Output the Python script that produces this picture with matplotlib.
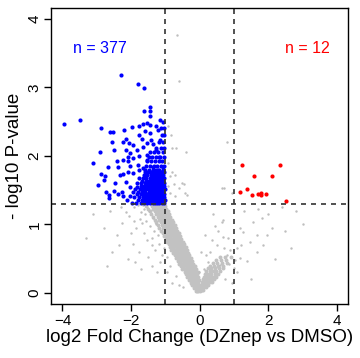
import matplotlib
matplotlib.use("Agg")
import matplotlib.pyplot as plt

plt.rcParams['font.family'] = ['Liberation Sans', 'DejaVu Sans']

# significant down (blue)
blue_pts = [
    (-2.30, 3.18), (-1.80, 3.05), (-1.61, 2.99), (-1.46, 2.72), (-1.61, 2.65),
    (-1.44, 2.65), (-1.46, 2.58), (-3.95, 2.46), (-3.49, 2.53), (-2.87, 2.41),
    (-2.60, 2.35), (-2.53, 2.35), (-2.20, 2.38), (-1.96, 2.42), (-1.78, 2.43),
    (-1.66, 2.46), (-1.53, 2.48), (-1.44, 2.45), (-1.28, 2.43), (-1.16, 2.53),
    (-1.06, 2.50), (-1.58, 2.37), (-1.44, 2.33), (-1.76, 2.30), (-1.67, 2.25),
    (-1.41, 2.23), (-1.21, 2.38), (-2.15, 2.25), (-2.24, 2.21), (-2.56, 2.21),
    (-2.06, 2.19), (-1.95, 2.16), (-1.52, 2.19), (-1.35, 2.18), (-1.15, 2.23),
    (-2.49, 2.09), (-2.14, 2.09), (-2.03, 2.04), (-1.83, 2.09), (-1.66, 2.13),
    (-2.91, 2.05), (-2.10, 1.99), (-1.95, 1.97), (-1.78, 2.00), (-1.54, 2.02),
    (-1.27, 2.09), (-1.17, 1.98), (-3.11, 1.90), (-2.41, 1.92), (-2.24, 1.94),
    (-2.09, 1.93), (-2.68, 1.84), (-2.38, 1.84), (-2.03, 1.85), (-1.81, 1.87),
    (-1.54, 1.94), (-1.35, 1.84), (-2.87, 1.74), (-2.75, 1.71), (-2.33, 1.72),
    (-2.24, 1.73), (-2.09, 1.77), (-1.93, 1.75), (-1.78, 1.80), (-1.64, 1.82),
    (-1.44, 1.77), (-1.20, 1.80), (-1.06, 1.84), (-2.78, 1.65), (-2.46, 1.60),
    (-2.14, 1.62), (-2.03, 1.55), (-2.95, 1.57), (-2.73, 1.47), (-2.63, 1.43),
    (-2.51, 1.49), (-2.38, 1.44), (-2.27, 1.48), (-2.22, 1.41), (-2.65, 1.39),
    (-2.03, 1.41), (-1.93, 1.48), (-1.83, 1.55),
]

# dense part of the blue group, by row: (-log10 p, log2 FC values)
blue_rows = [
    (1.32, [-1.04, -1.10, -1.17, -1.23, -1.30, -1.37, -1.45, -1.53, -1.62, -1.72, -1.85, -1.96]),
    (1.36, [-1.02, -1.08, -1.14, -1.21, -1.28, -1.34, -1.42, -1.50, -1.58, -1.68, -1.79, -2.12]),
    (1.40, [-1.05, -1.11, -1.18, -1.25, -1.32, -1.40, -1.47, -1.56, -1.65, -1.76, -1.90]),
    (1.44, [-1.03, -1.09, -1.15, -1.22, -1.30, -1.37, -1.44, -1.52, -1.61, -1.71, -1.83]),
    (1.48, [-1.06, -1.12, -1.19, -1.26, -1.33, -1.41, -1.49, -1.58, -1.67, -1.80]),
    (1.52, [-1.02, -1.09, -1.16, -1.23, -1.31, -1.39, -1.47, -1.55, -1.64, -1.75, -1.88]),
    (1.56, [-1.05, -1.12, -1.20, -1.28, -1.36, -1.44, -1.53, -1.62, -1.72]),
    (1.60, [-1.03, -1.10, -1.17, -1.25, -1.33, -1.42, -1.50, -1.60, -1.70, -1.84]),
    (1.64, [-1.06, -1.14, -1.22, -1.30, -1.39, -1.48, -1.57, -1.67]),
    (1.68, [-1.04, -1.11, -1.19, -1.27, -1.36, -1.46, -1.55, -1.66, -1.78]),
    (1.72, [-1.07, -1.15, -1.24, -1.33, -1.42, -1.52, -1.62]),
    (1.76, [-1.03, -1.12, -1.21, -1.30, -1.40, -1.50, -1.60]),
    (1.80, [-1.08, -1.17, -1.27, -1.37, -1.48, -1.58]),
    (1.86, [-1.05, -1.14, -1.24, -1.34, -1.45, -1.56]),
    (1.92, [-1.09, -1.19, -1.30, -1.41, -1.52]),
    (1.98, [-1.04, -1.15, -1.26, -1.38, -1.49]),
    (2.05, [-1.08, -1.20, -1.32, -1.45]),
    (2.12, [-1.03, -1.14, -1.27]),
    (2.20, [-1.06, -1.18]),
    (2.30, [-1.09, -1.03]),
    (2.40, [-1.12, -1.05]),
]

# significant up (red)
red_pts = [
    (1.23, 1.87), (1.59, 1.71), (2.33, 1.87), (2.10, 1.71), (1.18, 1.48),
    (1.38, 1.52), (1.53, 1.43), (1.78, 1.46), (1.78, 1.43), (1.93, 1.45),
    (2.52, 1.34), (1.71, 1.44),
]

# not significant (grey): dense left arm, by row
grey_left_rows = [
    (0.03, [-0.10, -0.04, 0.01, -0.07]),
    (0.07, [-0.15, -0.09, -0.03, 0.03, -0.12]),
    (0.11, [-0.19, -0.13, -0.07, -0.01, -0.22]),
    (0.15, [-0.24, -0.17, -0.10, -0.04, -0.20]),
    (0.19, [-0.28, -0.21, -0.14, -0.07, -0.31, -0.02]),
    (0.23, [-0.32, -0.25, -0.18, -0.11, -0.05, -0.36]),
    (0.27, [-0.36, -0.29, -0.22, -0.15, -0.08, -0.40]),
    (0.31, [-0.40, -0.33, -0.26, -0.19, -0.12, -0.44, -0.06]),
    (0.35, [-0.45, -0.37, -0.30, -0.23, -0.16, -0.50, -0.10]),
    (0.39, [-0.49, -0.41, -0.34, -0.27, -0.20, -0.55, -0.14]),
    (0.43, [-0.53, -0.45, -0.38, -0.31, -0.24, -0.60, -0.18]),
    (0.47, [-0.57, -0.49, -0.42, -0.35, -0.28, -0.64, -0.22]),
    (0.51, [-0.61, -0.53, -0.46, -0.39, -0.32, -0.68, -0.26]),
    (0.55, [-0.66, -0.58, -0.50, -0.43, -0.36, -0.73, -0.30]),
    (0.59, [-0.70, -0.62, -0.54, -0.47, -0.40, -0.77, -0.33]),
    (0.63, [-0.74, -0.66, -0.58, -0.51, -0.44, -0.82, -0.37]),
    (0.67, [-0.78, -0.70, -0.62, -0.55, -0.48, -0.86, -0.41]),
    (0.71, [-0.82, -0.74, -0.66, -0.59, -0.52, -0.90, -0.45]),
    (0.75, [-0.86, -0.78, -0.70, -0.63, -0.56, -0.95, -0.49]),
    (0.79, [-0.90, -0.82, -0.74, -0.67, -0.60, -0.99, -0.53]),
    (0.83, [-0.94, -0.86, -0.78, -0.71, -0.64, -1.03, -0.57]),
    (0.87, [-0.98, -0.90, -0.82, -0.75, -0.68, -1.08, -0.61]),
    (0.91, [-1.02, -0.94, -0.86, -0.79, -0.72, -1.12, -0.65]),
    (0.95, [-1.06, -0.98, -0.90, -0.83, -0.76, -1.17, -0.69]),
    (0.99, [-1.10, -1.02, -0.94, -0.87, -0.80, -1.21, -0.73]),
    (1.03, [-1.14, -1.06, -0.98, -0.91, -0.84, -1.26, -0.77]),
    (1.07, [-1.18, -1.10, -1.02, -0.95, -0.88, -1.31, -0.81]),
    (1.11, [-1.22, -1.14, -1.06, -0.99, -0.92, -1.36, -0.85]),
    (1.15, [-1.27, -1.18, -1.10, -1.03, -0.96, -1.41, -0.89]),
    (1.19, [-1.31, -1.22, -1.14, -1.07, -1.00, -1.46, -0.93]),
    (1.23, [-1.35, -1.26, -1.18, -1.11, -1.04, -1.51, -0.97]),
    (1.27, [-1.39, -1.30, -1.22, -1.15, -1.08, -1.56, -1.01]),
]

# dense right arm, by row
grey_right_rows = [
    (0.04, [0.03, 0.07, 0.11]),
    (0.08, [0.04, 0.09, 0.14, 0.19]),
    (0.12, [0.06, 0.12, 0.18, 0.24]),
    (0.16, [0.08, 0.15, 0.22, 0.29, 0.35]),
    (0.20, [0.10, 0.18, 0.26, 0.34, 0.42]),
    (0.24, [0.13, 0.21, 0.30, 0.39, 0.48]),
    (0.28, [0.16, 0.25, 0.34, 0.44, 0.54]),
    (0.32, [0.20, 0.29, 0.39, 0.49, 0.60]),
    (0.36, [0.24, 0.34, 0.45, 0.56, 0.68]),
    (0.40, [0.30, 0.42, 0.55, 0.68]),
    (0.44, [0.38, 0.52, 0.66, 0.80]),
    (0.48, [0.48, 0.62, 0.78]),
    (0.52, [0.58, 0.75, 0.92]),
]

# scattered grey points
grey_pts = [
    (-1.55, 1.05), (-1.72, 1.18), (-1.85, 0.95), (-2.05, 1.12), (-1.62, 0.88),
    (-1.40, 0.80), (-1.95, 0.72), (-2.25, 1.02), (-2.40, 0.85), (-1.30, 0.62),
    (-1.78, 0.60), (-2.60, 1.20), (-1.15, 0.45), (-1.50, 0.52), (-2.10, 0.50),
    (-0.95, 0.30), (-1.25, 0.30), (-1.70, 0.35), (-2.80, 0.95), (-3.10, 1.15),
    (-1.90, 1.25), (-1.65, 1.28), (-2.30, 1.25), (-1.48, 1.20), (-1.58, 1.15),
    (-1.35, 1.10), (-1.45, 0.98), (-1.20, 0.85), (-1.05, 0.65), (-0.85, 0.40),
    (-0.70, 0.25), (-0.95, 0.52), (-1.10, 0.55), (-1.38, 0.70), (-2.55, 0.60),
    (-0.60, 0.12), (-0.48, 0.08), (-1.75, 1.08), (-2.00, 0.88), (-1.28, 1.00),
    (-1.62, 1.22), (-1.80, 1.28), (-1.52, 1.26), (-1.68, 1.02), (-1.92, 1.05),
    (-2.15, 1.18), (-1.33, 0.90), (-1.52, 0.78), (-1.18, 0.72), (-2.35, 0.70),
    (-3.30, 0.80), (-2.70, 0.40), (-1.88, 0.45), (-1.40, 0.40), (-0.80, 0.15),
    (0.69, 1.07), (0.65, 1.04), (0.45, 0.97), (1.18, 0.95), (1.27, 0.89),
    (1.56, 1.04), (1.81, 1.09), (1.67, 0.85), (1.47, 0.75), (1.08, 0.66),
    (0.50, 0.70), (0.31, 0.60), (0.79, 0.55), (1.18, 0.51), (1.38, 0.46),
    (0.60, 0.41), (0.99, 0.36), (1.67, 0.60), (1.86, 0.70), (1.96, 0.85),
    (0.84, 0.80), (0.69, 0.82), (0.90, 0.62), (0.55, 0.90), (0.35, 0.78),
    (0.20, 0.55), (0.25, 0.45), (1.10, 0.30), (1.50, 0.20), (2.20, 0.50),
    (2.50, 0.90), (2.00, 1.15), (2.80, 1.20), (0.75, 0.20), (0.95, 0.15),
    (0.40, 1.15), (0.12, 0.35), (-0.02, 0.30), (0.05, 0.60), (1.30, 1.20),
    (1.70, 1.22), (2.40, 1.25), (1.02, 0.48), (0.86, 0.42), (0.72, 0.66),
    (1.22, 0.70), (2.10, 0.95), (2.65, 0.65), (3.00, 1.00), (0.15, 0.85),
    (-0.66, 3.77), (-0.59, 3.09), (-0.84, 2.31), (-0.91, 2.43), (-0.81, 2.11),
    (-0.69, 2.11), (-0.39, 2.05), (0.79, 2.21), (-0.91, 1.89), (-0.81, 1.77),
    (-0.86, 1.70), (-0.71, 1.72), (-0.52, 1.60), (-0.45, 1.59), (-0.76, 1.59),
    (-0.59, 1.53), (-0.42, 1.46), (0.65, 1.53), (0.71, 1.53), (0.94, 1.46),
    (-0.86, 1.46), (-0.71, 1.41), (-0.91, 1.56), (-0.37, 1.43),
]

n_down = 377
n_up = 12
fc_cut = 1
p_cut = 1.3


def unpack(rows, pts):
    xs = [x for y, row in rows for x in row] + [p[0] for p in pts]
    ys = [y for y, row in rows for x in row] + [p[1] for p in pts]
    return xs, ys


gx, gy = unpack(grey_left_rows + grey_right_rows, [])
sx, sy = unpack([], grey_pts)
bx, by = unpack(blue_rows, blue_pts)
rx, ry = unpack([], red_pts)

fig = plt.figure(figsize=(3.6, 3.58), dpi=100)
ax = fig.add_axes([0.142, 0.151, 0.825, 0.827])

# dense arms drawn with bigger dots so they read as a solid cloud
ax.scatter(gx, gy, s=8, c='#C2C2C2', linewidths=0)
ax.scatter(sx, sy, s=3, c='#BEBEBE', linewidths=0)
ax.scatter(bx, by, s=9, c='#0000FF', linewidths=0)
ax.scatter(rx, ry, s=9, c='#FF0000', linewidths=0)

for v in (-fc_cut, fc_cut):
    ax.axvline(v, color='#333333', lw=1.2, ls=(0, (3, 3)))
ax.axhline(p_cut, color='#333333', lw=1.2, ls=(0, (3, 3)))

ax.text(-2.9, 3.56, f"n = {n_down}", color='#0000FF', fontsize=11.5,
        ha='center', va='center')
ax.text(3.14, 3.56, f"n = {n_up}", color='#FF0000', fontsize=11.5,
        ha='center', va='center')

ax.set_xlim(-4.33, 4.33)
ax.set_ylim(-0.16, 4.16)
ax.set_xticks([-4, -2, 0, 2, 4])
ax.set_yticks([0, 1, 2, 3, 4])
ax.tick_params(labelsize=11, length=5, width=1, pad=2)
for lab in ax.get_yticklabels():
    lab.set_rotation(90)
    lab.set_va('center')
ax.set_xlabel("log2 Fold Change (DZnep vs DMSO)", fontsize=13.5, labelpad=1)
ax.set_ylabel("- log10 P-value", fontsize=13.5, labelpad=3)
for s in ax.spines.values():
    s.set_linewidth(1)

fig.savefig("out.png", dpi=100)
